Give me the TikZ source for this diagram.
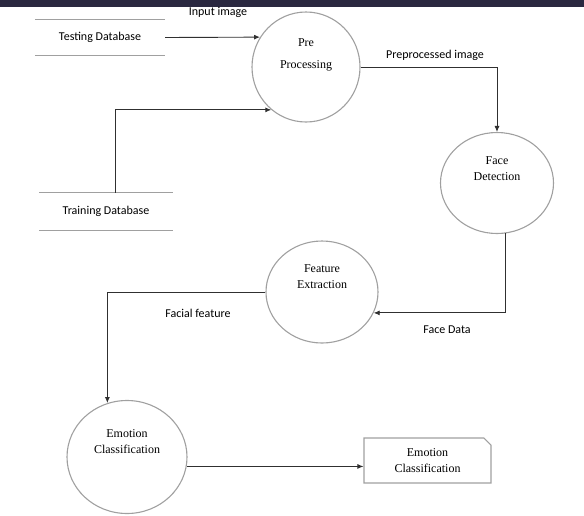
\documentclass[tikz,border=0pt]{standalone}
\usepackage{fontspec}
\setmainfont{Liberation Serif}
\newfontfamily\lblfont{Carlito}
\usetikzlibrary{arrows.meta,shapes.geometric,shapes.misc}

\definecolor{barcol}{HTML}{2A2840}
\definecolor{rimcol}{HTML}{A0A0A0}
\definecolor{flowcol}{HTML}{303030}

\begin{document}
\begin{tikzpicture}[x=1pt,y=-1pt,
  process/.style={ellipse,draw=rimcol,line width=1.1pt,inner sep=0pt},
  proctext/.style={font=\fontsize{12}{14}\selectfont,align=center},
  store/.style={font=\lblfont\fontsize{12}{14}\selectfont,inner sep=0pt},
  flow/.style={draw=flowcol,line width=0.9pt,-{Latex[length=6pt,width=5pt]}},
  flowlabel/.style={font=\lblfont\fontsize{12}{14}\selectfont}]
  \useasboundingbox (0,0) rectangle (584,515);
  \fill[barcol] (0,0) rectangle (584,7);

  % data stores
  \node[store,minimum width=130pt,minimum height=35pt] (test) at (100,37.5) {Testing Database};
  \node[store,minimum width=133pt,minimum height=37pt] (train) at (106,211.5) {Training Database};
  \draw[rimcol,line width=1.1pt] (test.north west) -- (test.north east)
    (test.south west) -- (test.south east)
    (train.north west) -- (train.north east)
    (train.south west) -- (train.south east);

  % processes
  \node[process,minimum width=108pt,minimum height=110pt] (pre) at (306,67) {};
  \node[proctext] (pretext) at (306,55) {Pre\\[8pt]Processing};
  \node[process,minimum width=113pt,minimum height=101pt] (face) at (497,183) {};
  \node[proctext] (facetext) at (497,168.5) {Face\\[2pt]Detection};
  \node[process,minimum width=112pt,minimum height=102pt] (feat) at (322,292) {};
  \node[proctext] (feattext) at (322,277) {Feature\\[2pt]Extraction};
  \node[process,minimum width=120pt,minimum height=113pt] (emo) at (127,457) {};
  \node[proctext] (emotext) at (127,442) {Emotion\\[2pt]Classification};

  % output
  \node[chamfered rectangle,chamfered rectangle corners=north east,
    chamfered rectangle xsep=4pt,draw=rimcol,line width=1.1pt,
    minimum width=127pt,minimum height=45pt,inner sep=0pt,
    proctext] (out) at (427.5,460.5) {Emotion\\[2pt]Classification};

  % flows
  \draw[flow] (test.east) -- (pre.147);
  \draw[flow] ([xshift=9pt]train.north) |- (pre.231);
  \draw[flow] (pre.east) -| (face.north);
  \draw[flow] (face.-80) |- (feat.-22);
  \draw[flow] (feat.west) -| (emo.110);
  \draw[flow] (emo.-9) -- (emo.-9 -| out.west);

  % flow labels
  \node[flowlabel] (l1) at (218,12) {Input image};
  \node[flowlabel] (l2) at (435,55) {Preprocessed image};
  \node[flowlabel] (l3) at (447,330) {Face Data};
  \node[flowlabel] (l4) at (198,313) {Facial feature};
\end{tikzpicture}
\end{document}
